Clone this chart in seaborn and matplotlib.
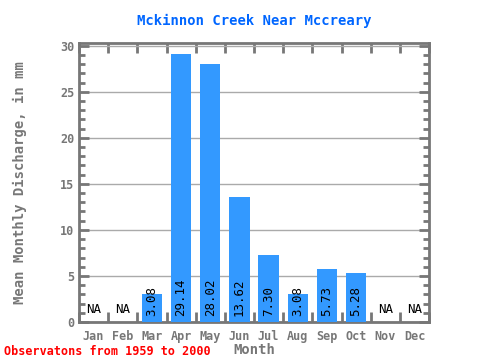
import numpy as np
import pandas as pd
import matplotlib
matplotlib.use('Agg')
import matplotlib.pyplot as plt
import seaborn as sns
from matplotlib.ticker import MultipleLocator

months = ['Jan', 'Feb', 'Mar', 'Apr', 'May', 'Jun', 'Jul', 'Aug', 'Sep', 'Oct', 'Nov', 'Dec']
discharge = [np.nan, np.nan, 3.08, 29.14, 28.02, 13.62, 7.30, 3.08, 5.73, 5.28, np.nan, np.nan]

df = pd.DataFrame({'Month': months, 'Discharge': discharge})

sns.set_style('white')
plt.rcParams['font.family'] = ['DejaVu Sans Mono']

gray = '#777777'
fig = plt.figure(figsize=(4.8, 3.6), dpi=100)
ax = fig.add_axes([0.1646, 0.1056, 0.7292, 0.775])

sns.barplot(data=df, x='Month', y='Discharge', order=months, color='#3399ff',
            saturation=1, width=0.7, errorbar=None, linewidth=0, ax=ax, zorder=3)

ax.set_xlim(-0.5, 11.5)
ax.set_ylim(0, 30.3)
ax.yaxis.set_major_locator(MultipleLocator(5))
ax.yaxis.set_minor_locator(MultipleLocator(1))
ax.set_xticks(np.arange(12))
ax.set_xticks(np.arange(-0.5, 12, 1), minor=True)
ax.set_xticklabels(months)
ax.grid(axis='y', which='major', color='#aaaaaa', linewidth=1, zorder=0)

for s in ax.spines.values():
    s.set_color(gray)
    s.set_linewidth(2)

ax.tick_params(axis='y', which='major', direction='in', length=7, width=2, color=gray,
               left=True, right=True, labelsize=8.5, labelcolor=gray)
ax.tick_params(axis='y', which='minor', direction='in', length=4, width=2, color=gray,
               left=True, right=True)
ax.tick_params(axis='x', which='major', length=0, labelsize=8.5, labelcolor=gray, pad=6)
ax.tick_params(axis='x', which='minor', direction='in', length=7, width=2, color=gray,
               bottom=True, top=True)
for lbl in ax.get_xticklabels() + ax.get_yticklabels():
    lbl.set_fontweight('bold')

for i, v in enumerate(discharge):
    if np.isnan(v):
        ax.text(i, 0.6, 'NA', ha='center', va='bottom', fontsize=9, color='black', zorder=4)
    else:
        ax.text(i, 0.6, '%.2f' % v, ha='center', va='bottom', rotation=90,
                fontsize=9, color='black', zorder=4)

ax.set_xlabel('Month', fontsize=10, fontweight='bold', color=gray, labelpad=0)
ax.set_ylabel('Mean Monthly Discharge, in mm', fontsize=10, fontweight='bold', color=gray, labelpad=24)
ax.set_title('Mckinnon Creek Near Mccreary', fontsize=10, fontweight='bold', color='#0066ff', pad=13)

fig.text(0.008, 0.005, 'Observatons from 1959 to 2000', fontsize=8.5, fontweight='bold',
         color='red', ha='left', va='bottom')

fig.savefig('out.png', dpi=100)
